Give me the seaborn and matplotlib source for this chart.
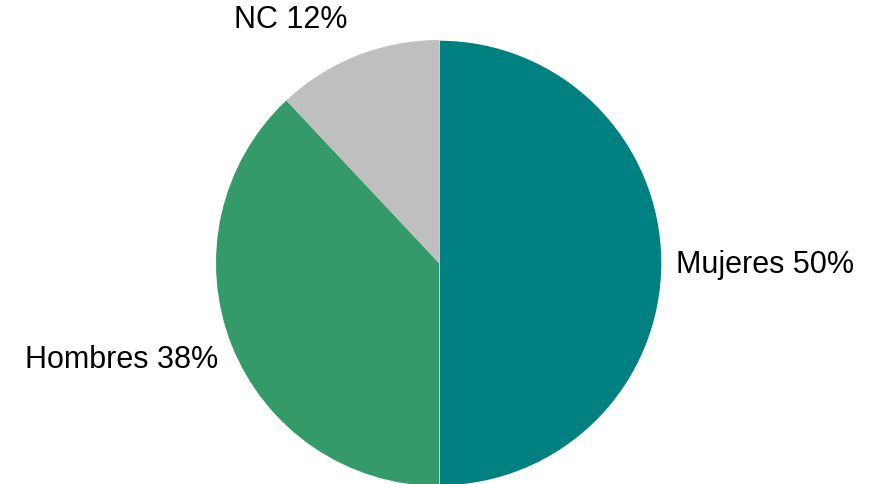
import matplotlib
matplotlib.use("Agg")
import matplotlib.pyplot as plt
import seaborn as sns

# reparto por sexo
categorias = ["Mujeres", "Hombres", "NC"]
porcentajes = [50, 38, 12]
colores = ["#008080", "#359A69", "#BFBFBF"]

sns.set_theme(style="white")
plt.rcParams["font.family"] = ["Liberation Sans", "DejaVu Sans"]

fig = plt.figure(figsize=(8.7, 4.84), dpi=100)
# circle centre ~ (439, 263) px, radius ~ 223 px
cx, cy, r = 439, 263, 223
ax = fig.add_axes([(cx - r) / 870, (484 - cy - r) / 484, 2 * r / 870, 2 * r / 484])

etiquetas = [f"{c} {p}%" for c, p in zip(categorias, porcentajes)]
wedges, textos = ax.pie(porcentajes, labels=etiquetas, colors=colores,
                        startangle=90, counterclock=False, radius=1,
                        labeldistance=1.07,
                        wedgeprops=dict(edgecolor="white", linewidth=0),
                        textprops=dict(fontsize=22, color="black"))
# only the first slice gets the thin white seam
wedges[0].set_linewidth(1.0)

# label anchors a bit off the radial line, like the original layout
anclas = [(1.065, -0.01), (-0.99, -0.435), (-0.41, 1.09)]
for t, (x, y) in zip(textos, anclas):
    t.set_position((x, y))
    t.set_clip_on(False)

ax.set_xlim(-1, 1)
ax.set_ylim(-1, 1)
ax.set_aspect("equal")
ax.axis("off")

fig.savefig("out.png", dpi=100)
